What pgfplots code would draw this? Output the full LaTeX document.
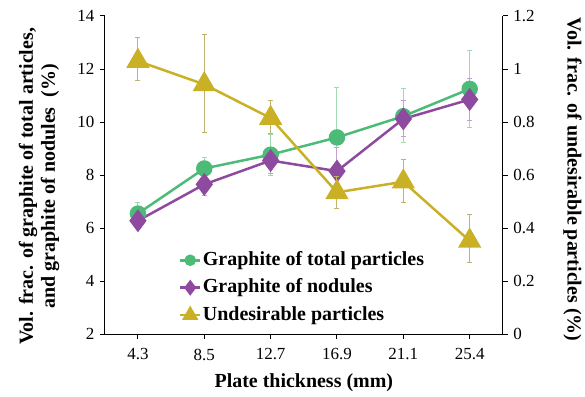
\documentclass[border=0pt]{standalone}
\usepackage{pgfplots}
\pgfplotsset{compat=1.18}
\usepackage{fontspec}
\setmainfont{Liberation Serif}
\definecolor{cgreen}{RGB}{77,187,120}
\definecolor{cpurple}{RGB}{142,74,158}
\definecolor{cgold}{RGB}{201,176,36}
\definecolor{egreen}{RGB}{160,218,180}
\definecolor{epurple}{RGB}{195,160,205}
\definecolor{egold}{RGB}{195,178,110}
\begin{document}
\begin{tikzpicture}
\pgfplotsset{
  common/.style={
    scale only axis, width=399pt, height=319pt,
    at={(0pt,0pt)}, anchor=south west,
    xmin=-0.5, xmax=5.5,
    /pgf/number format/assume math mode=true,
    tick label style={font=\fontsize{17}{20}\selectfont},
    label style={font=\fontsize{20}{22}\selectfont\bfseries},
    axis line style={line width=1pt, black},
    major tick length=5pt,
    tick style={line width=1pt, black},
    tick align=outside,
    clip=false,
  },
}
\begin{axis}[common,
  axis y line*=left, axis x line*=bottom,
  ymin=2, ymax=14, ytick={2,4,...,14},
  xtick={0,...,5}, xticklabels={4.3,8.5,12.7,16.9,21.1,25.4},
  xticklabel style={yshift=-6pt},
  xlabel={Plate thickness (mm)},
  xlabel style={at={(axis description cs:0.5,0)}, anchor=north, yshift=-36pt},
  ylabel={Vol. frac. of graphite of total articles,\\and graphite of nodules\ \ (\%)},
  ylabel style={align=center, at={(axis description cs:-0.165,0.465)}, anchor=center},
  yticklabel style={xshift=-2pt},
]
\addplot[cgreen, line width=2.5pt, mark=*, mark size=7pt, mark options={solid},
  error bars/.cd, y dir=both, y explicit,
  error bar style={egreen, line width=1pt},
  error mark options={rotate=90, mark size=2.5pt, egreen, line width=1pt}]
table[x=x, y=y, y error plus=ep, y error minus=em] {
x y ep em
0 6.55 0.42 0.42
1 8.25 0.40 0.40
2 8.77 0.75 0.79
3 9.42 1.90 1.90
4 10.22 1.03 1.00
5 11.25 1.45 1.45
};
\addplot[cpurple, line width=2.5pt, mark=diamond*, mark size=9.5pt, mark options={solid},
  error bars/.cd, y dir=both, y explicit,
  error bar style={epurple, line width=1pt},
  error mark options={rotate=90, mark size=2.5pt, epurple, line width=1pt}]
table[x=x, y=y, y error plus=ep, y error minus=em] {
x y ep em
0 6.28 0.25 0.25
1 7.65 0.40 0.40
2 8.55 0.50 0.50
3 8.15 0.90 0.90
4 10.12 0.70 0.68
5 10.85 0.80 0.80
};
\end{axis}
\begin{axis}[common,
  axis y line*=right, axis x line=none,
  ymin=0, ymax=1.2, ytick={0,0.2,...,1.2},
  yticklabel style={/pgf/number format/fixed, xshift=2pt},
  ylabel={Vol. frac. of undesirable particles (\%)},
  ylabel style={at={(axis description cs:1.175,0.486)}, anchor=center, rotate=180},
  legend style={at={(axis description cs:0.186,0.266)}, anchor=north west,
    draw=none, fill=none, inner sep=0pt,
    font=\fontsize{20}{22}\selectfont\bfseries,
    nodes={inner sep=1.5pt, text height=14pt, text depth=4pt},
    row sep=6.5pt},
  legend cell align=left,
]
\addlegendimage{cgreen, line width=2.5pt, mark=*, mark size=4.5pt, legend image code/.code={\draw[mark repeat=2,mark phase=2] plot coordinates {(0pt,0pt)(10pt,0pt)(20pt,0pt)};}}
\addlegendentry{Graphite of total particles}
\addlegendimage{cpurple, line width=2.5pt, mark=diamond*, mark size=6pt, legend image code/.code={\draw[mark repeat=2,mark phase=2] plot coordinates {(0pt,0pt)(10pt,0pt)(20pt,0pt)};}}
\addlegendentry{Graphite of nodules}
\addlegendimage{cgold, line width=2.5pt, mark=triangle*, mark size=7pt, legend image code/.code={\draw[mark repeat=2,mark phase=2] plot coordinates {(0pt,0pt)(10pt,0pt)(20pt,0pt)};}}
\addlegendentry{Undesirable particles}
\addplot[forget plot, cgold, line width=2.5pt, mark=triangle*, mark size=11pt, mark options={solid},
  error bars/.cd, y dir=both, y explicit,
  error bar style={egold, line width=1pt},
  error mark options={rotate=90, mark size=2.5pt, egold, line width=1pt}]
table[x=x, y=y, y error plus=ep, y error minus=em] {
x y ep em
0 1.030 0.090 0.075
1 0.942 0.190 0.180
2 0.815 0.065 0.060
3 0.535 0.060 0.060
4 0.575 0.085 0.080
5 0.352 0.100 0.080
};
\end{axis}
\path (-105pt,-62pt) rectangle (480pt,335pt);
\end{tikzpicture}
\end{document}
